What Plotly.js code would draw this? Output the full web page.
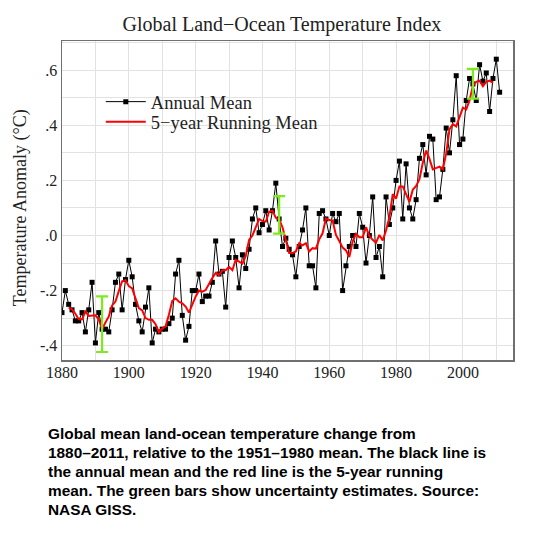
<!DOCTYPE html>
<html>
<head>
<meta charset="utf-8">
<script src="https://cdn.plot.ly/plotly-3.0.1.min.js"></script>
<style>
  html, body { margin: 0; padding: 0; background: #fff; }
  #wrap { position: relative; width: 534px; height: 544px; }
  #chart { position: absolute; left: 0; top: 0; width: 534px; height: 544px; }
  #caption { position: absolute; left: 48px; top: 424px; width: 480px;
    font-family: "Liberation Sans", Arial, sans-serif; font-weight: bold;
    font-size: 15.4px; line-height: 19px; color: #000; }
</style>
</head>
<body>
<div id="wrap">
  <div id="chart"></div>
  <div id="caption">Global mean land-ocean temperature change from<br>1880–2011, relative to the 1951–1980 mean. The black line is<br>the annual mean and the red line is the 5-year running<br>mean. The green bars show uncertainty estimates. Source:<br>NASA GISS.</div>
</div>
<script>
// Years 1880..2011
const years = [1880,1881,1882,1883,1884,1885,1886,1887,1888,1889,1890,1891,1892,1893,1894,1895,1896,1897,1898,1899,
1900,1901,1902,1903,1904,1905,1906,1907,1908,1909,1910,1911,1912,1913,1914,1915,1916,1917,1918,1919,
1920,1921,1922,1923,1924,1925,1926,1927,1928,1929,1930,1931,1932,1933,1934,1935,1936,1937,1938,1939,
1940,1941,1942,1943,1944,1945,1946,1947,1948,1949,1950,1951,1952,1953,1954,1955,1956,1957,1958,1959,
1960,1961,1962,1963,1964,1965,1966,1967,1968,1969,1970,1971,1972,1973,1974,1975,1976,1977,1978,1979,
1980,1981,1982,1983,1984,1985,1986,1987,1988,1989,1990,1991,1992,1993,1994,1995,1996,1997,1998,1999,
2000,2001,2002,2003,2004,2005,2006,2007,2008,2009,2010,2011];

// Annual mean anomaly (°C)
const annualMean = [-0.28,-0.20,-0.25,-0.27,-0.31,-0.31,-0.28,-0.35,-0.27,-0.17,-0.39,-0.28,-0.34,-0.34,-0.35,-0.27,-0.17,-0.14,-0.27,-0.16,
-0.09,-0.15,-0.25,-0.31,-0.35,-0.26,-0.19,-0.39,-0.34,-0.35,-0.34,-0.34,-0.32,-0.30,-0.14,-0.09,-0.29,-0.38,-0.33,-0.20,
-0.20,-0.14,-0.24,-0.22,-0.22,-0.17,-0.02,-0.14,-0.13,-0.26,-0.08,-0.02,-0.08,-0.19,-0.07,-0.12,-0.05,0.06,0.10,0.01,
0.04,0.09,0.02,0.09,0.19,0.06,-0.04,-0.01,-0.05,-0.07,-0.15,-0.04,0.02,0.10,-0.11,-0.11,-0.19,0.08,0.09,0.06,
0.00,0.08,0.05,0.08,-0.20,-0.11,-0.04,0.00,-0.04,0.08,0.03,-0.10,0.00,0.14,-0.08,-0.04,-0.15,0.14,0.04,0.10,
0.20,0.27,0.06,0.26,0.10,0.06,0.13,0.28,0.33,0.22,0.36,0.35,0.13,0.14,0.24,0.39,0.30,0.42,0.58,0.33,
0.35,0.49,0.57,0.55,0.49,0.62,0.56,0.59,0.45,0.57,0.64,0.52];

// 5-year running mean, 1882..2009
const runYears = [1882,1883,1884,1885,1886,1887,1888,1889,1890,1891,1892,1893,1894,1895,1896,1897,1898,1899,
1900,1901,1902,1903,1904,1905,1906,1907,1908,1909,1910,1911,1912,1913,1914,1915,1916,1917,1918,1919,
1920,1921,1922,1923,1924,1925,1926,1927,1928,1929,1930,1931,1932,1933,1934,1935,1936,1937,1938,1939,
1940,1941,1942,1943,1944,1945,1946,1947,1948,1949,1950,1951,1952,1953,1954,1955,1956,1957,1958,1959,
1960,1961,1962,1963,1964,1965,1966,1967,1968,1969,1970,1971,1972,1973,1974,1975,1976,1977,1978,1979,
1980,1981,1982,1983,1984,1985,1986,1987,1988,1989,1990,1991,1992,1993,1994,1995,1996,1997,1998,1999,
2000,2001,2002,2003,2004,2005,2006,2007,2008,2009];
const runningMean = [-0.262,-0.268,-0.284,-0.304,-0.304,-0.276,-0.292,-0.292,-0.290,-0.304,-0.340,-0.316,-0.294,-0.254,-0.240,-0.202,-0.166,-0.162,
-0.184,-0.192,-0.230,-0.264,-0.272,-0.300,-0.306,-0.306,-0.322,-0.352,-0.338,-0.330,-0.288,-0.238,-0.228,-0.240,-0.246,-0.258,-0.280,-0.250,
-0.222,-0.200,-0.204,-0.198,-0.174,-0.154,-0.136,-0.144,-0.126,-0.126,-0.114,-0.126,-0.088,-0.096,-0.102,-0.074,-0.016,0.000,0.032,0.060,
0.052,0.050,0.086,0.090,0.064,0.058,0.030,-0.022,-0.064,-0.064,-0.058,-0.028,-0.036,-0.028,-0.058,-0.046,-0.048,-0.014,0.008,0.062,
0.056,0.054,0.002,-0.020,-0.044,-0.054,-0.078,-0.022,0.006,-0.006,-0.006,0.030,-0.002,-0.016,-0.026,0.002,-0.018,0.018,0.066,0.150,
0.134,0.178,0.178,0.150,0.122,0.166,0.180,0.204,0.264,0.308,0.278,0.240,0.244,0.250,0.240,0.298,0.386,0.404,0.396,0.434,
0.464,0.458,0.490,0.544,0.558,0.562,0.542,0.558,0.562,0.554];

// Uncertainty bars
const errYears = [1892, 1945, 2003];
const errCenter = [-0.322, 0.075, 0.551];
const errHalf = [0.101, 0.068, 0.054];

// Tick labels
const xTickVals = [1880, 1900, 1920, 1940, 1960, 1980, 2000];
const xTickText = ['1880', '1900', '1920', '1940', '1960', '1980', '2000'];
const yTickVals = [-0.4, -0.2, 0.0, 0.2, 0.4, 0.6];
const yTickText = ['-.4', '-.2', '.0', '.2', '.4', '.6'];

const serif = '"Liberation Serif", "Times New Roman", serif';

const traces = [
  {
    x: years, y: annualMean, type: 'scatter', mode: 'lines+markers',
    name: 'Annual Mean', legend: 'legend',
    line: { color: '#000', width: 1 },
    marker: { color: '#000', symbol: 'square', size: 5 }
  },
  {
    x: runYears, y: runningMean, type: 'scatter', mode: 'lines',
    name: '5\u2212year Running Mean', legend: 'legend2',
    line: { color: '#ff0000', width: 2 }
  },
  {
    x: errYears, y: errCenter, type: 'scatter', mode: 'markers',
    showlegend: false,
    marker: { size: 1, color: 'rgba(0,0,0,0)' },
    error_y: { type: 'data', array: errHalf, visible: true, color: '#7dea1e', thickness: 2.2, width: 6 }
  }
];

const legendBase = {
  xanchor: 'left', yanchor: 'top',
  bgcolor: 'rgba(0,0,0,0)', borderwidth: 0,
  font: { family: serif, size: 18.5, color: '#222' },
  itemwidth: 40
};

const layout = {
  width: 534, height: 544,
  margin: { l: 62, r: 21, t: 41, b: 184, pad: 0 },
  paper_bgcolor: '#fff', plot_bgcolor: '#fff',
  showlegend: true,
  title: {
    text: 'Global Land\u2212Ocean Temperature Index',
    font: { family: serif, size: 20, color: '#222' },
    x: 0.528, xref: 'container', xanchor: 'center',
    y: 0.956, yref: 'container', yanchor: 'middle'
  },
  xaxis: {
    range: [1880, 2015],
    tickmode: 'array', tickvals: xTickVals, ticktext: xTickText,
    ticks: '', showgrid: true, gridcolor: '#e2e2e2', gridwidth: 1,
    minor: { tickmode: 'linear', tick0: 1880, dtick: 10, showgrid: true, gridcolor: '#e2e2e2', gridwidth: 1 },
    zeroline: false, ticklabelstandoff: -3,
    showline: true, mirror: true, linecolor: '#707070', linewidth: 1.5,
    tickfont: { family: serif, size: 16, color: '#222' }
  },
  yaxis: {
    range: [-0.452, 0.706],
    tickmode: 'array', tickvals: yTickVals, ticktext: yTickText,
    ticks: '', showgrid: true, gridcolor: '#e2e2e2', gridwidth: 1,
    minor: { tickmode: 'linear', tick0: -0.4, dtick: 0.1, showgrid: true, gridcolor: '#e2e2e2', gridwidth: 1 },
    zeroline: false,
    showline: true, mirror: true, linecolor: '#707070', linewidth: 1.5,
    tickfont: { family: serif, size: 16, color: '#222' }
  },
  annotations: [{
    text: 'Temperature Anomaly (\u00B0C)', textangle: -90,
    xref: 'paper', yref: 'paper', x: -0.093, y: 0.476,
    xanchor: 'center', yanchor: 'middle', showarrow: false,
    font: { family: serif, size: 18, color: '#222' }
  }],
  legend: Object.assign({}, legendBase, { x: 0.086, y: 0.868 }),
  legend2: Object.assign({}, legendBase, { x: 0.086, y: 0.805 })
};

Plotly.newPlot('chart', traces, layout, { displayModeBar: false, staticPlot: true });
</script>
</body>
</html>
